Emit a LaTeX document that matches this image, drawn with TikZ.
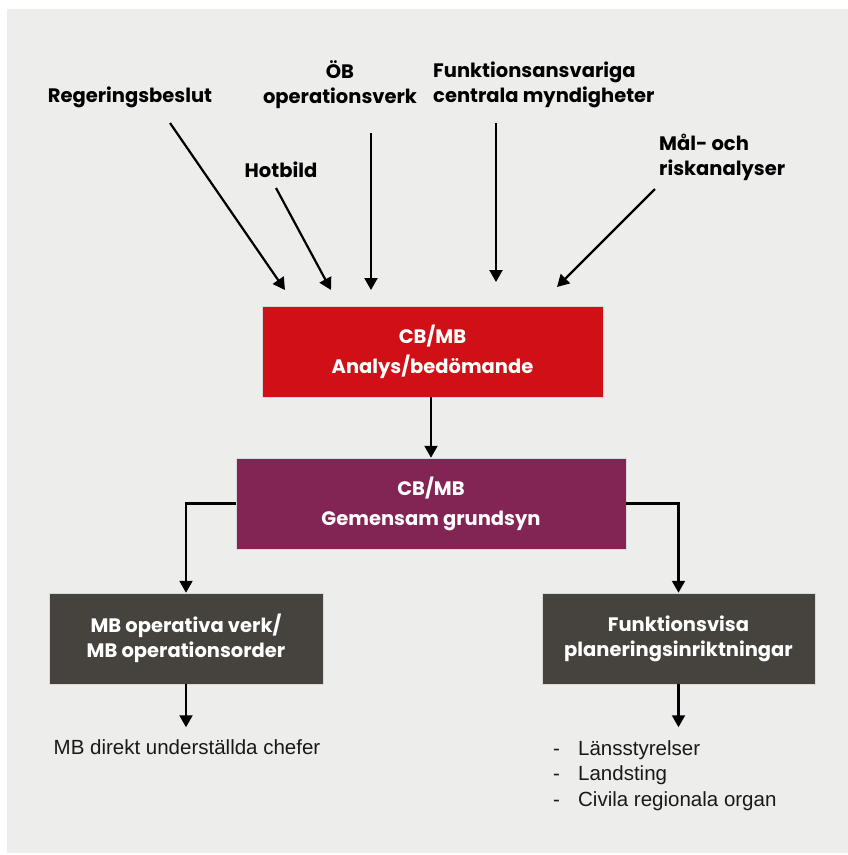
\documentclass[tikz,border=0pt]{standalone}
\usepackage{fontspec}
\setmainfont{Poppins}
\newfontfamily\plainfont{Liberation Sans}
\usetikzlibrary{arrows.meta,calc}

\definecolor{bgpanel}{RGB}{237,237,235}
\definecolor{boxred}{RGB}{208,16,22}
\definecolor{boxplum}{RGB}{130,36,84}
\definecolor{boxdark}{RGB}{70,67,62}

\tikzset{
  lbl/.style={font=\fontsize{19.5}{25}\selectfont\bfseries, inner sep=0pt, text=black},
  box/.style={minimum height=91pt, inner sep=0pt, text=white, align=center,
    font=\fontsize{19.5}{25}\selectfont\bfseries, draw=white!70!gray, line width=0.5pt},
  plain/.style={font=\plainfont\fontsize{20.5}{25.5}\selectfont, inner sep=0pt, text=black!90},
  arr/.style={line width=2.2pt, -{Triangle[length=12pt,width=13pt]}},
}

\begin{document}
\begin{tikzpicture}[x=1pt,y=-1pt]
  % page and grey panel
  \useasboundingbox (0,0) rectangle (848,855);
  \fill[white] (0,0) rectangle (848,855);
  \fill[bgpanel] (7,9) rectangle (848,853);

  % input labels
  \node[lbl] (reg) at (130,97) {Regeringsbeslut};
  \node[lbl] (hot) at (281,170) {Hotbild};
  \node[lbl, align=center] (ob) at (340,84.5) {ÖB\\operationsverk};
  \node[lbl, align=left, anchor=west] (fun) at (433,84.5) {Funktionsansvariga\\centrala myndigheter};
  \node[lbl, align=left, anchor=west] (mal) at (659,157.5) {Mål- och\\riskanalyser};

  % boxes
  \node[box, fill=boxred, minimum width=341pt] (ana) at (432.5,351.5)
    {CB/MB\\[5pt]Analys/bedömande};
  \node[box, fill=boxplum, minimum width=390pt] (gem) at (431,503.5)
    {CB/MB\\[5pt]Gemensam grundsyn};
  \node[box, fill=boxdark, minimum width=274pt] (ops) at (186,638.5)
    {MB operativa verk/\\MB operationsorder};
  \node[box, fill=boxdark, minimum width=273pt] (plan) at (678.5,638.5)
    {Funktionsvisa\\planeringsinriktningar};

  % outputs
  \node[plain, anchor=north] (chef) at (187,739) {MB direkt underställda chefer};
  \node[plain, anchor=north west, align=left] (org) at (553,740)
    {\makebox[25pt][l]{-}Länsstyrelser\\
     \makebox[25pt][l]{-}Landsting\\
     \makebox[25pt][l]{-}Civila regionala organ};

  % arrow ends above the analysis box
  \coordinate (regS) at (170,123);  \coordinate (regE) at (285,290);
  \coordinate (hotS) at (276,188);  \coordinate (hotE) at (331,290);
  \coordinate (obS)  at (371,133);  \coordinate (obE)  at (371,290);
  \coordinate (funS) at (496,123);  \coordinate (funE) at (496,282);
  \coordinate (malS) at (655,189);  \coordinate (malE) at (557,287);

  \draw[arr] (regS) -- (regE);
  \draw[arr] (hotS) -- (hotE);
  \draw[arr] (obS) -- (obE);
  \draw[arr] (funS) -- (funE);
  \draw[arr] (malS) -- (malE);

  % flow between boxes
  \draw[arr] (ana.south -| gem.north) -- (gem.north);
  \draw[arr] (gem.west) -| (ops.north);
  \draw[arr] (gem.east) -| (plan.north);
  \draw[arr] (ops.south) -- ++(0,43);
  \draw[arr] (plan.south) -- ++(0,43);
\end{tikzpicture}
\end{document}
